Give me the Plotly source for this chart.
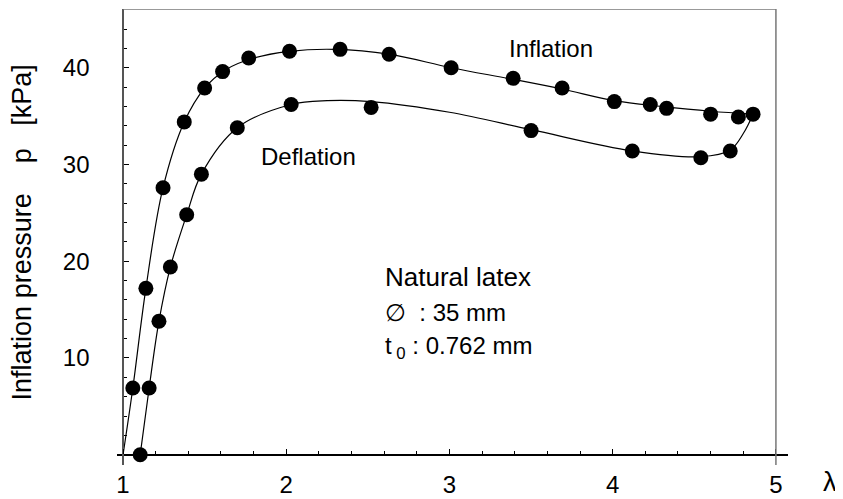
import plotly.graph_objects as go

# measured points (stretch ratio lambda, pressure p in kPa)
infl_x = [1.06, 1.14, 1.245, 1.375, 1.50, 1.61, 1.77, 2.02, 2.33, 2.63, 3.01, 3.39, 3.69,
          4.01, 4.23, 4.33, 4.60, 4.77, 4.86]
infl_y = [6.9, 17.2, 27.6, 34.4, 37.9, 39.6, 41.0, 41.7, 41.9, 41.4, 40.0, 38.9, 37.9,
          36.5, 36.2, 35.8, 35.2, 34.9, 35.2]

defl_x = [1.105, 1.16, 1.22, 1.29, 1.39, 1.48, 1.70, 2.03, 2.52, 3.50, 4.12, 4.54, 4.72]
defl_y = [0.0, 6.9, 13.8, 19.4, 24.8, 29.0, 33.8, 36.2, 35.9, 33.5, 31.4, 30.7, 31.4]

# fitted curves
infl_curve_x = [1.00, 1.06, 1.14, 1.245, 1.375, 1.50, 1.63, 1.80, 2.02, 2.30, 2.63, 3.01,
                3.39, 3.69, 4.01, 4.30, 4.60, 4.86]
infl_curve_y = [0.0, 6.9, 17.2, 27.6, 34.4, 37.9, 39.8, 41.0, 41.7, 41.9, 41.4, 40.0,
                38.8, 37.8, 36.6, 36.0, 35.5, 35.2]

defl_curve_x = [1.105, 1.16, 1.22, 1.29, 1.39, 1.48, 1.70, 2.03, 2.25, 2.52, 3.00, 3.50,
                4.12, 4.54, 4.72, 4.80, 4.86]
defl_curve_y = [0.0, 6.9, 13.8, 19.4, 24.8, 29.0, 33.8, 36.2, 36.6, 36.5, 35.4, 33.6,
                31.4, 30.8, 31.5, 33.2, 35.2]

x_ticks = [1, 2, 3, 4, 5]
y_ticks = [10, 20, 30, 40]

FONT = "Liberation Sans, Arial, Helvetica, sans-serif"
xr = [0.963, 5.074]
yr = [-1.06, 46.07]

fig = go.Figure()

for cx, cy in [(infl_curve_x, infl_curve_y), (defl_curve_x, defl_curve_y)]:
    fig.add_trace(go.Scatter(
        x=cx, y=cy, mode="lines",
        line=dict(color="black", width=1.2, shape="spline", smoothing=1.0),
        hoverinfo="skip", showlegend=False,
    ))

for px_, py_ in [(infl_x, infl_y), (defl_x, defl_y)]:
    fig.add_trace(go.Scatter(
        x=px_, y=py_, mode="markers",
        marker=dict(color="black", size=15),
        showlegend=False, cliponaxis=False,
    ))

# frame: top and right in grey
fig.add_shape(type="line", x0=1, x1=5, y0=yr[1], y1=yr[1],
              line=dict(color="#777777", width=1.5))
fig.add_shape(type="line", x0=5, x1=5, y0=yr[0], y1=yr[1],
              line=dict(color="#777777", width=1.5))

# the page body adds 8px, so the margins are shifted back by that much
fig.update_layout(
    width=843, height=499,
    margin=dict(l=109, r=63, t=1, b=42),
    paper_bgcolor="white", plot_bgcolor="white",
    font=dict(family=FONT, size=24, color="black"),
    xaxis=dict(
        range=xr, anchor="free", automargin=False,
        position=(0 - yr[0]) / (yr[1] - yr[0]),
        showgrid=False, zeroline=False,
        showline=True, linecolor="black", linewidth=1.5,
        tickmode="array", tickvals=x_ticks, ticktext=[str(v) for v in x_ticks],
        ticks="inside", ticklen=5, tickcolor="black", tickwidth=1,
        ticklabelstandoff=9,
        minor=dict(dtick=0.2, tick0=1, ticks="inside", ticklen=3,
                   tickcolor="black", tickwidth=1, showgrid=False),
    ),
    yaxis=dict(
        range=yr, anchor="free", automargin=False,
        position=(1 - xr[0]) / (xr[1] - xr[0]),
        showgrid=False, zeroline=False,
        showline=True, linecolor="#555555", linewidth=1.5,
        tickmode="array", tickvals=y_ticks, ticktext=[str(v) for v in y_ticks],
        ticks="inside", ticklen=5, tickcolor="black", tickwidth=1,
        ticklabelstandoff=28,
        minor=dict(dtick=2, tick0=0, ticks="inside", ticklen=3,
                   tickcolor="black", tickwidth=1, showgrid=False),
    ),
)

ann = dict(showarrow=False, font=dict(family=FONT, size=24, color="black"))
fig.add_annotation(x=3.62, y=42.0, text="Inflation", xanchor="center", yanchor="middle", **ann)
fig.add_annotation(x=1.83, y=30.8, text="Deflation", xanchor="left", yanchor="middle", **ann)
fig.add_annotation(x=2.59, y=18.4, text="Natural latex", xanchor="left", yanchor="middle",
                   showarrow=False, font=dict(family=FONT, size=26, color="black"))
fig.add_annotation(x=2.59, y=14.7, text="\u2205  : 35 mm", xanchor="left", yanchor="middle", **ann)
fig.add_annotation(x=2.59, y=11.1, text="t<sub> 0</sub> : 0.762 mm", xanchor="left",
                   yanchor="middle", **ann)
fig.add_annotation(xref="paper", yref="paper", x=1.062, y=-0.037, text="\u03bb",
                   xanchor="center", yanchor="middle", showarrow=False,
                   font=dict(family=FONT, size=27, color="black"))
fig.add_annotation(xref="paper", yref="paper", x=-0.1416, y=0.51, textangle=-90,
                   text="Inflation pressure    p   [kPa]", xanchor="center", yanchor="middle",
                   showarrow=False, font=dict(family=FONT, size=27, color="black"))

fig.write_html("out.html")
